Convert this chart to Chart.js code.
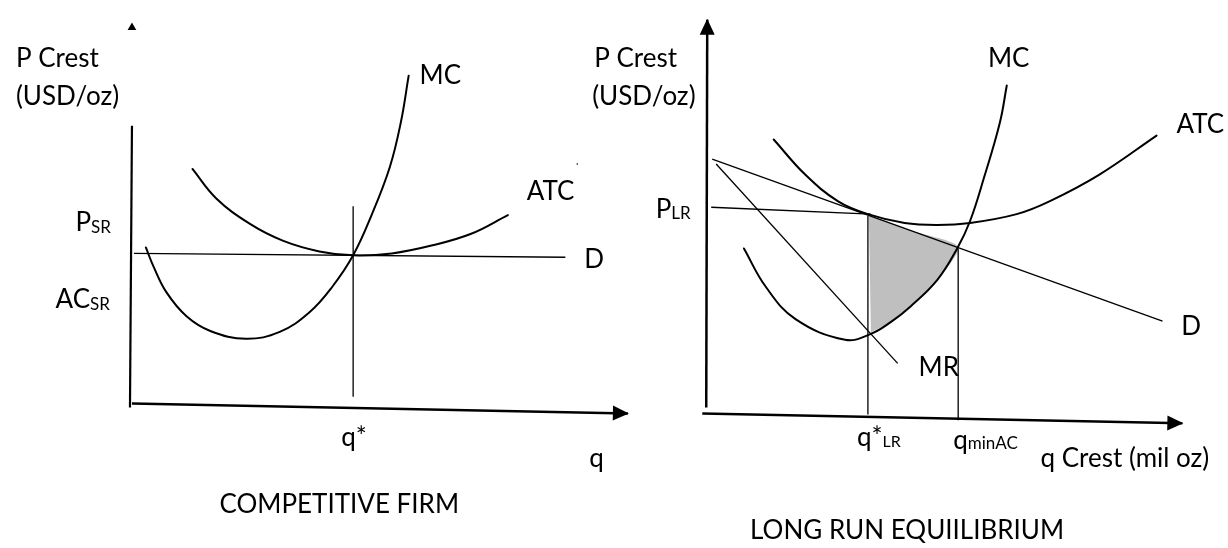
<!DOCTYPE html>
<html>
<head>
<meta charset="utf-8">
<script src="https://cdn.jsdelivr.net/npm/chart.js@4.4.1/dist/chart.umd.min.js"></script>
<style>
  html, body { margin: 0; padding: 0; background: #ffffff; }
  #wrap { position: relative; width: 1228px; height: 548px; }
</style>
</head>
<body>
<div id="wrap"><canvas id="c"></canvas></div>
<script>
// ===== Left panel: COMPETITIVE FIRM  (q, P) =====
const srAxisY  = [[0.2, 57], [-0.2, -0.4]];
const srAxisX  = [[0.2, 0.4], [100.2, -1.6]];
const srMarker = [[0.2, 77]];
const srSpeck  = [[90, 49.2]];
const srD      = [[0.6, 31.0], [87.6, 30.2]];
const srQstar  = [[44.8, 1.8], [44.8, 40.6]];
const srMC     = [[3.0, 32.2], [4.6, 28.2], [7.2, 23.0], [11.2, 18.2], [16.0, 15.2], [23.2, 13.6],
                  [30.0, 15.0], [36.0, 19.0], [40.6, 24.2], [44.8, 30.6], [48.6, 39.0], [52.2, 48.6],
                  [54.4, 57.6], [56.0, 67.2]];
const srATC    = [[12.4, 48.2], [17.2, 42.2], [24.0, 37.0], [30.6, 33.6], [38.0, 31.4], [44.8, 30.6],
                  [52.6, 31.0], [60.6, 32.6], [68.6, 35.0], [76.0, 38.8]];

// ===== Right panel: LONG RUN EQUILIBRIUM  (q Crest mil oz, P Crest USD/oz) =====
const lrAxisY  = [[0, 1.2], [0.2, 80.2]];
const lrAxisX  = [[-0.8, 0], [96, -2]];
const lrD      = [[1.2, 51.8], [92, 18.8]];
const lrMR     = [[2, 50.8], [38.6, 10.2]];
const lrPrice  = [[1.0, 42], [33.2, 40.6]];
const lrQstar  = [[32.6, -0.2], [32.6, 40.2]];
const lrQminAC = [[50.8, -1.4], [50.8, 33.6]];
const lrMC     = [[7.6, 33.6], [12.0, 25.8], [18.0, 19.2], [28.0, 15.0], [33.2, 16.2], [37.2, 18.6],
                  [41.2, 21.8], [46.6, 27.2], [50.6, 33.6], [53.2, 39.2], [56.0, 48.0], [59.2, 59.2],
                  [60.6, 66.8]];
const lrATC    = [[13.6, 55.8], [20.0, 48.6], [26.6, 43.2], [32.6, 40.6], [40.0, 38.8], [46.6, 38.4],
                  [53.2, 38.8], [62.6, 40.6], [69.2, 43.2], [79.2, 48.6], [90.8, 56.6]];
const lrProfit = [[32.8, 40.4], [41.8, 37.1], [50.8, 33.9], [46.6, 27.2], [41.2, 21.8], [37.2, 18.6], [33.2, 16.5]];

// ===== Text labels =====
const FONT = 'Lato, "Open Sans", sans-serif';
const MAIN = 26, SUB = 17;
const labelDefs = [
  // panel, x, y (data units), align, parts [text, size, dy]
  ['L', -23.2, 69.0, 'left',   [['P Crest', MAIN, 0]]],
  ['L', -23.2, 61.2, 'left',   [['(USD/oz)', MAIN, 0]]],
  ['L', 58.2, 65.6, 'left',    [['MC', MAIN, 0]]],
  ['L', 79.8, 41.8, 'left',    [['ATC', MAIN, 0]]],
  ['L', 91.4, 28.0, 'left',    [['D', MAIN, 0]]],
  ['L', -11.2, 35.6, 'left',   [['P', MAIN, 0], ['SR', SUB, 2]]],
  ['L', -15.2, 19.8, 'left',   [['AC', MAIN, 0], ['SR', SUB, 2]]],
  ['L', 42.4, -8.2, 'left',    [['q*', MAIN, 0]]],
  ['L', 92.4, -12.6, 'left',   [['q', MAIN, 0]]],
  ['L', 42.0, -21.8, 'center', [['COMPETITIVE FIRM', MAIN, 0]]],
  ['R', -22.6, 70.6, 'left',   [['P Crest', MAIN, 0]]],
  ['R', -23.0, 62.8, 'left',   [['(USD/oz)', MAIN, 0]]],
  ['R', 56.8, 70.6, 'left',    [['MC', MAIN, 0]]],
  ['R', 94.8, 57.2, 'left',    [['ATC', MAIN, 0]]],
  ['R', -10.2, 39.8, 'left',   [['P', MAIN, 0], ['LR', SUB, 1]]],
  ['R', 95.8, 16.0, 'left',    [['D', MAIN, 0]]],
  ['R', 42.8, 7.6, 'left',     [['MR', MAIN, 0]]],
  ['R', 30.4, -6.6, 'left',    [['q*', MAIN, 0], ['LR', SUB - 1, 1]]],
  ['R', 49.8, -7.2, 'left',    [['q', MAIN, 0], ['minAC', SUB, 0]]],
  ['R', 67.4, -11.0, 'left',   [['q Crest (mil oz)', MAIN, 0]]],
  ['R', 40.5, -25.6, 'center', [['LONG RUN EQUIILIBRIUM', MAIN, 0]]]
];

// ===== helpers =====
const toXY = pts => pts.map(([x, y]) => ({ x, y }));
function line(pts, panel, width, extra) {
  return Object.assign({
    data: toXY(pts),
    xAxisID: panel === 'L' ? 'xL' : 'xR',
    yAxisID: panel === 'L' ? 'yL' : 'yR',
    showLine: true, borderColor: '#000', backgroundColor: '#000',
    borderWidth: width, pointRadius: 0, pointHoverRadius: 0,
    fill: false, tension: 0, order: 1
  }, extra || {});
}
const smooth = { tension: 0.4, borderCapStyle: 'round', borderJoinStyle: 'round' };

const datasets = [
  line(lrProfit, 'R', 0, { fill: 'shape', backgroundColor: '#bfbfbf', borderColor: 'rgba(0,0,0,0)', tension: 0.25, order: 10 }),
  line(srAxisY, 'L', 2.2),
  line(srAxisX, 'L', 2.5, { arrow: { len: 15, half: 7.5 } }),
  line(srD, 'L', 1.4),
  line(srQstar, 'L', 1.3),
  line(srMC, 'L', 2.0, smooth),
  line(srATC, 'L', 2.0, smooth),
  line(srMarker, 'L', 0, { showLine: false, pointStyle: 'triangle', pointRadius: 5, borderWidth: 0 }),
  line(srSpeck, 'L', 0, { showLine: false, pointRadius: 0.8, borderWidth: 0 }),
  line(lrAxisY, 'R', 2.5, { arrow: { len: 15, half: 7.5 } }),
  line(lrAxisX, 'R', 2.5, { arrow: { len: 15, half: 7.5 } }),
  line(lrD, 'R', 1.3),
  line(lrMR, 'R', 1.3),
  line(lrPrice, 'R', 1.3),
  line(lrQstar, 'R', 1.3),
  line(lrQminAC, 'R', 1.3),
  line(lrMC, 'R', 2.0, smooth),
  line(lrATC, 'R', 2.0, smooth)
];

const arrowPlugin = {
  id: 'arrowHeads',
  afterDatasetsDraw(chart) {
    const ctx = chart.ctx;
    chart.data.datasets.forEach((ds, i) => {
      if (!ds.arrow) return;
      const pts = chart.getDatasetMeta(i).data;
      const a = pts[pts.length - 2], b = pts[pts.length - 1];
      const dx = b.x - a.x, dy = b.y - a.y, L = Math.hypot(dx, dy);
      const ux = dx / L, uy = dy / L, h = ds.arrow.half;
      const bx = b.x - ux * ds.arrow.len, by = b.y - uy * ds.arrow.len;
      ctx.save();
      ctx.fillStyle = '#000';
      ctx.beginPath();
      ctx.moveTo(b.x + ux * 1, b.y + uy * 1);
      ctx.lineTo(bx - uy * h, by + ux * h);
      ctx.lineTo(bx + uy * h, by - ux * h);
      ctx.closePath();
      ctx.fill();
      ctx.restore();
    });
  }
};

const textPlugin = {
  id: 'diagramText',
  afterDraw(chart) {
    const ctx = chart.ctx;
    ctx.save();
    ctx.fillStyle = '#000';
    ctx.textBaseline = 'alphabetic';
    labelDefs.forEach(([panel, x, y, align, parts]) => {
      const xs = chart.scales[panel === 'L' ? 'xL' : 'xR'];
      const ys = chart.scales[panel === 'L' ? 'yL' : 'yR'];
      let px = xs.getPixelForValue(x);
      const py = ys.getPixelForValue(y);
      let total = 0;
      parts.forEach(([t, s]) => { ctx.font = s + 'px ' + FONT; total += ctx.measureText(t).width; });
      if (align === 'center') px -= total / 2;
      ctx.textAlign = 'left';
      parts.forEach(([t, s, dy]) => {
        ctx.font = s + 'px ' + FONT;
        ctx.fillText(t, px, py + dy);
        px += ctx.measureText(t).width;
      });
    });
    ctx.restore();
  }
};

const hidden = (min, max, pos) => ({ type: 'linear', position: pos, min, max, display: false });

new Chart(document.getElementById('c'), {
  type: 'scatter',
  data: { datasets },
  options: {
    responsive: true,
    maintainAspectRatio: false,
    animation: false,
    events: [],
    layout: { padding: 0 },
    plugins: { legend: { display: false }, tooltip: { enabled: false }, filler: { drawTime: 'beforeDatasetsDraw' } },
    scales: {
      xL: hidden(-25.4, 220.2, 'bottom'),
      yL: hidden(-28, 81.6, 'left'),
      xR: hidden(-141.4, 104.2, 'bottom'),
      yR: hidden(-26.4, 83.2, 'left')
    }
  },
  plugins: [arrowPlugin, textPlugin]
});
</script>
</body>
</html>
